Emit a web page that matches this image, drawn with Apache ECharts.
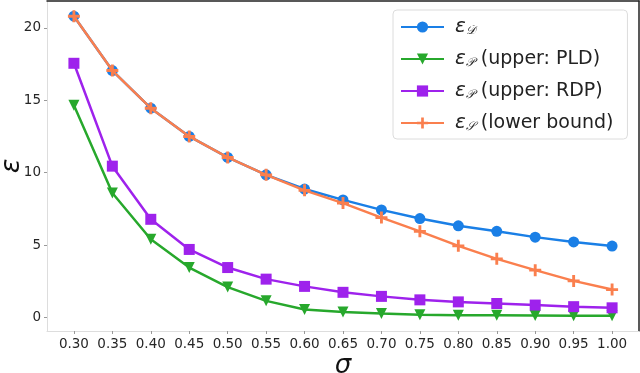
<!DOCTYPE html>
<html>
<head>
<meta charset="utf-8">
<script src="https://cdn.jsdelivr.net/npm/echarts@6/dist/echarts.min.js"></script>
<style>
  html, body { margin: 0; padding: 0; background: #fff; }
  #main { width: 640px; height: 373px; }
</style>
</head>
<body>
<div id="main"></div>
<script>
  var sigma = [0.30, 0.35, 0.40, 0.45, 0.50, 0.55, 0.60, 0.65, 0.70, 0.75, 0.80, 0.85, 0.90, 0.95, 1.00];
  var xTicks = [0.30, 0.35, 0.40, 0.45, 0.50, 0.55, 0.60, 0.65, 0.70, 0.75, 0.80, 0.85, 0.90, 0.95, 1.00];
  var yTicks = [0, 5, 10, 15, 20];

  var epsD = [20.8, 17.05, 14.45, 12.5, 11.05, 9.85, 8.87, 8.12, 7.43, 6.83, 6.33, 5.95, 5.55, 5.22, 4.93];
  var epsPLD = [14.65, 8.6, 5.4, 3.45, 2.1, 1.15, 0.55, 0.38, 0.27, 0.2, 0.16, 0.15, 0.14, 0.13, 0.13];
  var epsRDP = [17.55, 10.45, 6.78, 4.7, 3.45, 2.65, 2.15, 1.74, 1.46, 1.22, 1.08, 0.97, 0.86, 0.75, 0.67];
  var epsS = [20.8, 17.05, 14.45, 12.5, 11.05, 9.85, 8.78, 7.9, 6.9, 5.95, 4.95, 4.05, 3.27, 2.53, 1.93];

  var names = ['eD', 'ePLD', 'eRDP', 'eS'];

  function pairs(ys) {
    return sigma.map(function (x, i) { return [x, ys[i]]; });
  }

  var chart = echarts.init(document.getElementById('main'), null, { renderer: 'canvas' });

  var plus = 'path://M3.8,0H6.2V3.8H10V6.2H6.2V10H3.8V6.2H0V3.8H3.8Z';
  var font = 'DejaVu Sans';

  var option = {
    animation: false,
    textStyle: { fontFamily: font },
    grid: { left: 47, right: 1, top: 1, bottom: 42, outerBoundsMode: 'none', containLabel: false },
    legend: {
      left: 393,
      top: 10,
      orient: 'vertical',
      data: names,
      itemWidth: 43,
      itemHeight: 14,
      itemGap: 12,
      padding: [7, 14, 6, 7],
      borderColor: '#dcdcdc',
      borderWidth: 1,
      borderRadius: 4,
      backgroundColor: 'rgba(255,255,255,0.8)',
      textStyle: {
        fontFamily: font,
        fontSize: 19,
        color: '#222',
        padding: [0, 0, 0, 6],
        rich: {
          e: { fontSize: 20, lineHeight: 20, fontStyle: 'italic', fontFamily: font, color: '#222' },
          s: { fontSize: 12, lineHeight: 20, fontStyle: 'italic', fontFamily: font, color: '#222', verticalAlign: 'bottom', padding: [7, 0, 0, 0] },
          t: { fontSize: 19, lineHeight: 20, fontFamily: font, color: '#222', padding: [0, 0, 0, 6] }
        }
      },
      formatter: function (n) {
        if (n === 'eD') return '{e|ε}{s|𝒟}';
        if (n === 'ePLD') return '{e|ε}{s|𝒫}{t|(upper: PLD)}';
        if (n === 'eRDP') return '{e|ε}{s|𝒫}{t|(upper: RDP)}';
        return '{e|ε}{s|𝒮}{t|(lower bound)}';
      }
    },
    xAxis: [{
      type: 'value',
      min: 0.265,
      max: 1.035,
      name: 'σ',
      nameLocation: 'middle',
      nameGap: 22,
      nameMoveOverlap: false,
      nameTextStyle: { fontSize: 26, fontStyle: 'italic', color: '#111', fontFamily: font, verticalAlign: 'top' },
      splitLine: { show: false },
      axisLine: { onZero: false, lineStyle: { color: '#dddddd', width: 1 } },
      axisTick: { show: true, length: 3, lineStyle: { color: '#999' }, customValues: xTicks },
      axisLabel: {
        customValues: xTicks,
        margin: 6,
        fontSize: 13.5,
        color: '#262626',
        fontFamily: font,
        formatter: function (v) { return v.toFixed(2); }
      }
    }, {
      type: 'value',
      position: 'top',
      min: 0.265,
      max: 1.035,
      axisLine: { show: true, onZero: false, lineStyle: { color: '#222', width: 1.5 } },
      axisTick: { show: false },
      axisLabel: { show: false },
      splitLine: { show: false }
    }],
    yAxis: [{
      type: 'value',
      min: -0.93,
      max: 21.85,
      name: 'ε',
      nameLocation: 'middle',
      nameRotate: 90,
      nameGap: 22,
      nameMoveOverlap: false,
      nameTextStyle: { fontSize: 27, fontStyle: 'italic', color: '#111', fontFamily: font },
      splitLine: { show: false },
      axisLine: { show: true, onZero: false, lineStyle: { color: '#dddddd', width: 1 } },
      axisTick: { show: true, length: 3, lineStyle: { color: '#999' }, customValues: yTicks },
      axisLabel: {
        customValues: yTicks,
        margin: 6,
        fontSize: 13.5,
        color: '#262626',
        fontFamily: font
      }
    }, {
      type: 'value',
      position: 'right',
      min: -0.93,
      max: 21.85,
      axisLine: { show: true, onZero: false, lineStyle: { color: '#222', width: 1.5 } },
      axisTick: { show: false },
      axisLabel: { show: false },
      splitLine: { show: false }
    }],
    series: [{
      name: 'eD',
      type: 'line',
      data: pairs(epsD),
      symbol: 'circle',
      symbolSize: 11,
      color: '#1a7fe6',
      lineStyle: { width: 2.5 },
      z: 2
    }, {
      name: 'ePLD',
      type: 'line',
      data: pairs(epsPLD),
      symbol: 'triangle',
      symbolRotate: 180,
      symbolSize: 11,
      color: '#27a82c',
      lineStyle: { width: 2.5 },
      z: 3
    }, {
      name: 'eRDP',
      type: 'line',
      data: pairs(epsRDP),
      symbol: 'rect',
      symbolSize: 11,
      color: '#9e22ec',
      lineStyle: { width: 2.5 },
      z: 4
    }, {
      name: 'eS',
      type: 'line',
      data: pairs(epsS),
      symbol: plus,
      symbolSize: 12,
      color: '#fa7f4e',
      lineStyle: { width: 2.5 },
      z: 5
    }]
  };

  chart.setOption(option);
  window.addEventListener('resize', chart.resize);
</script>
</body>
</html>
